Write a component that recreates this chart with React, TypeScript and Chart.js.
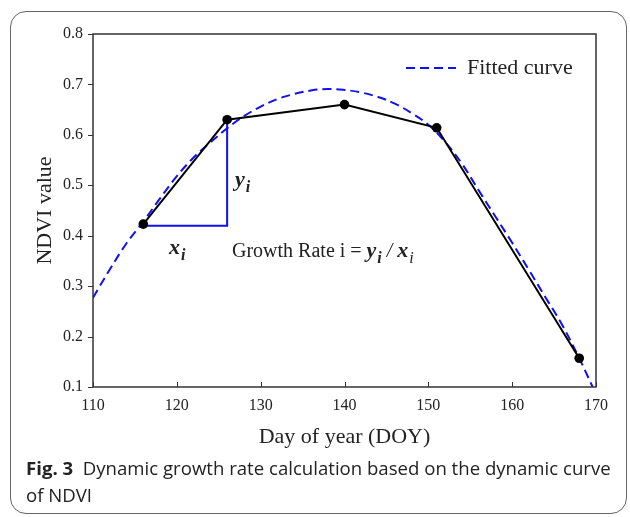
import React, { useEffect, useRef } from 'react';
import { Chart, registerables } from 'chart.js';

Chart.register(...registerables);

// Observed NDVI samples (day of year -> NDVI)
const observedDays = [116, 126, 140, 151, 168];
const observedNdvi = [0.423, 0.63, 0.66, 0.614, 0.157];

// Fitted curve
const fittedDays = [110, 112, 114, 116, 118, 120, 122, 124, 126, 128, 130, 132, 134, 136, 138, 140, 142, 144, 146, 148, 150, 152, 154, 156, 158, 160, 162, 164, 166, 168, 169.6];
const fittedNdvi = [0.277, 0.333, 0.385, 0.428, 0.474, 0.518, 0.555, 0.585, 0.613, 0.637, 0.656, 0.671, 0.681, 0.688, 0.691, 0.689, 0.684, 0.675, 0.662, 0.643, 0.62, 0.586, 0.543, 0.49, 0.438, 0.386, 0.332, 0.277, 0.222, 0.157, 0.1];

// Growth-rate triangle (x_i run, y_i rise)
const triangleDays = [116, 126, 126];
const triangleNdvi = [0.42, 0.42, 0.63];

// Axis ticks
const xTicks = [110, 120, 130, 140, 150, 160, 170];
const yTicks = [0.1, 0.2, 0.3, 0.4, 0.5, 0.6, 0.7, 0.8];

const SERIF = '"Liberation Serif", "Times New Roman", serif';
const BLUE = '#1010f0';
const INK = '#222222';

const framePlugin = {
  id: 'framePlugin',
  afterDraw(chart: any) {
    const { ctx, chartArea, scales } = chart;
    const xs = scales.x;
    const ys = scales.y;
    ctx.save();
    // frame
    ctx.strokeStyle = '#333';
    ctx.lineWidth = 1.5;
    ctx.strokeRect(chartArea.left, chartArea.top, chartArea.right - chartArea.left, chartArea.bottom - chartArea.top);
    // inward x ticks
    ctx.lineWidth = 1;
    xTicks.forEach((v) => {
      const px = Math.round(xs.getPixelForValue(v)) + 0.5;
      ctx.beginPath();
      ctx.moveTo(px, chartArea.bottom);
      ctx.lineTo(px, chartArea.bottom - 5);
      ctx.stroke();
    });
    // outward y ticks
    yTicks.forEach((v) => {
      const py = Math.round(ys.getPixelForValue(v)) + 0.5;
      ctx.beginPath();
      ctx.moveTo(chartArea.left, py);
      ctx.lineTo(chartArea.left - 5, py);
      ctx.stroke();
    });

    // legend
    ctx.strokeStyle = BLUE;
    ctx.lineWidth = 2;
    ctx.setLineDash([9, 5]);
    ctx.beginPath();
    ctx.moveTo(406, 68);
    ctx.lineTo(456, 68);
    ctx.stroke();
    ctx.setLineDash([]);
    ctx.fillStyle = INK;
    ctx.textBaseline = 'middle';
    ctx.textAlign = 'left';
    ctx.font = `22px ${SERIF}`;
    ctx.fillText('Fitted curve', 467, 68);

    // annotations
    const drawVar = (letter: string, x: number, y: number, size: number, boldSub = true) => {
      ctx.font = `italic bold ${size}px ${SERIF}`;
      ctx.fillText(letter, x, y);
      const w = ctx.measureText(letter).width;
      ctx.font = `italic ${boldSub ? 'bold ' : ''}${Math.round(size * 0.72)}px ${SERIF}`;
      ctx.fillText('i', x + w + 1, y + size * 0.28);
      return w + 1 + ctx.measureText('i').width;
    };
    ctx.textBaseline = 'alphabetic';
    drawVar('y', 235, 186, 22);
    drawVar('x', 169, 254, 22);
    ctx.font = `20px ${SERIF}`;
    const label = 'Growth Rate i = ';
    ctx.fillText(label, 232, 257);
    let cx = 232 + ctx.measureText(label).width;
    cx += drawVar('y', cx, 257, 22);
    ctx.font = `italic 20px ${SERIF}`;
    ctx.fillText(' / ', cx, 257);
    cx += ctx.measureText(' / ').width;
    drawVar('x', cx, 257, 22, false);
    ctx.restore();
  },
};

export default function App() {
  const ref = useRef<HTMLCanvasElement>(null);

  useEffect(() => {
    if (!ref.current) return;
    const chart = new Chart(ref.current, {
      type: 'line',
      data: {
        datasets: [
          {
            label: 'Observed',
            data: observedDays.map((d, i) => ({ x: d, y: observedNdvi[i] })),
            borderColor: '#000',
            backgroundColor: '#000',
            borderWidth: 2,
            pointRadius: 4.8,
            pointBackgroundColor: '#000',
            pointBorderWidth: 0,
            tension: 0,
            order: 0,
          },
          {
            label: 'Triangle',
            data: triangleDays.map((d, i) => ({ x: d, y: triangleNdvi[i] })),
            borderColor: BLUE,
            borderWidth: 2,
            pointRadius: 0,
            tension: 0,
            order: 1,
          },
          {
            label: 'Fitted curve',
            data: fittedDays.map((d, i) => ({ x: d, y: fittedNdvi[i] })),
            borderColor: BLUE,
            borderWidth: 2,
            borderDash: [9, 5],
            pointRadius: 0,
            tension: 0.4,
            order: 2,
          },
        ],
      },
      options: {
        animation: false,
        responsive: false,
        maintainAspectRatio: false,
        layout: { padding: { left: 0, top: 34, right: 34, bottom: 0 } },
        plugins: { legend: { display: false }, tooltip: { enabled: false } },
        scales: {
          x: {
            type: 'linear',
            min: 110,
            max: 170,
            afterFit: (s: any) => { s.height = 73; },
            afterBuildTicks: (s: any) => { s.ticks = xTicks.map((v) => ({ value: v })); },
            grid: { display: false, drawTicks: false },
            border: { display: false },
            ticks: { color: INK, font: { family: SERIF, size: 16 }, padding: 9, maxRotation: 0 },
            title: {
              display: true,
              text: 'Day of year (DOY)',
              color: INK,
              font: { family: SERIF, size: 22, lineHeight: 1.2 },
              padding: { top: 0, bottom: 10 },
            },
          },
          y: {
            type: 'linear',
            min: 0.1,
            max: 0.8,
            afterFit: (s: any) => { s.width = 93; },
            afterBuildTicks: (s: any) => { s.ticks = yTicks.map((v) => ({ value: v })); },
            grid: { display: false, drawTicks: false },
            border: { display: false },
            ticks: { color: INK, font: { family: SERIF, size: 16 }, padding: 10, callback: (v: any) => Number(v).toFixed(1) },
            title: {
              display: true,
              text: 'NDVI value',
              color: INK,
              font: { family: SERIF, size: 22, lineHeight: 1.2 },
              padding: { top: 32, bottom: 0 },
            },
          },
        },
      },
      plugins: [framePlugin],
    });
    return () => chart.destroy();
  }, []);

  return (
    <div style={{ position: 'fixed', left: 0, top: 0, width: 630, height: 517, background: '#fff', overflow: 'hidden' }}>
      <div
        style={{
          position: 'absolute',
          left: 10,
          top: 11,
          width: 617,
          height: 503,
          border: '1.5px solid #666',
          borderRadius: 16,
          boxSizing: 'border-box',
        }}
      />
      <canvas ref={ref} width={630} height={460} style={{ position: 'absolute', left: 0, top: 0, width: 630, height: 460 }} />
      <div
        style={{
          position: 'absolute',
          left: 26,
          top: 454,
          width: 600,
          fontFamily: '"Open Sans", "Noto Sans", sans-serif',
          fontSize: 18.6,
          lineHeight: '27px',
          color: '#222',
          whiteSpace: 'nowrap',
        }}
      >
        <b>Fig. 3</b>&nbsp;&nbsp;Dynamic growth rate calculation based on the dynamic curve
        <br />
        of NDVI
      </div>
    </div>
  );
}
